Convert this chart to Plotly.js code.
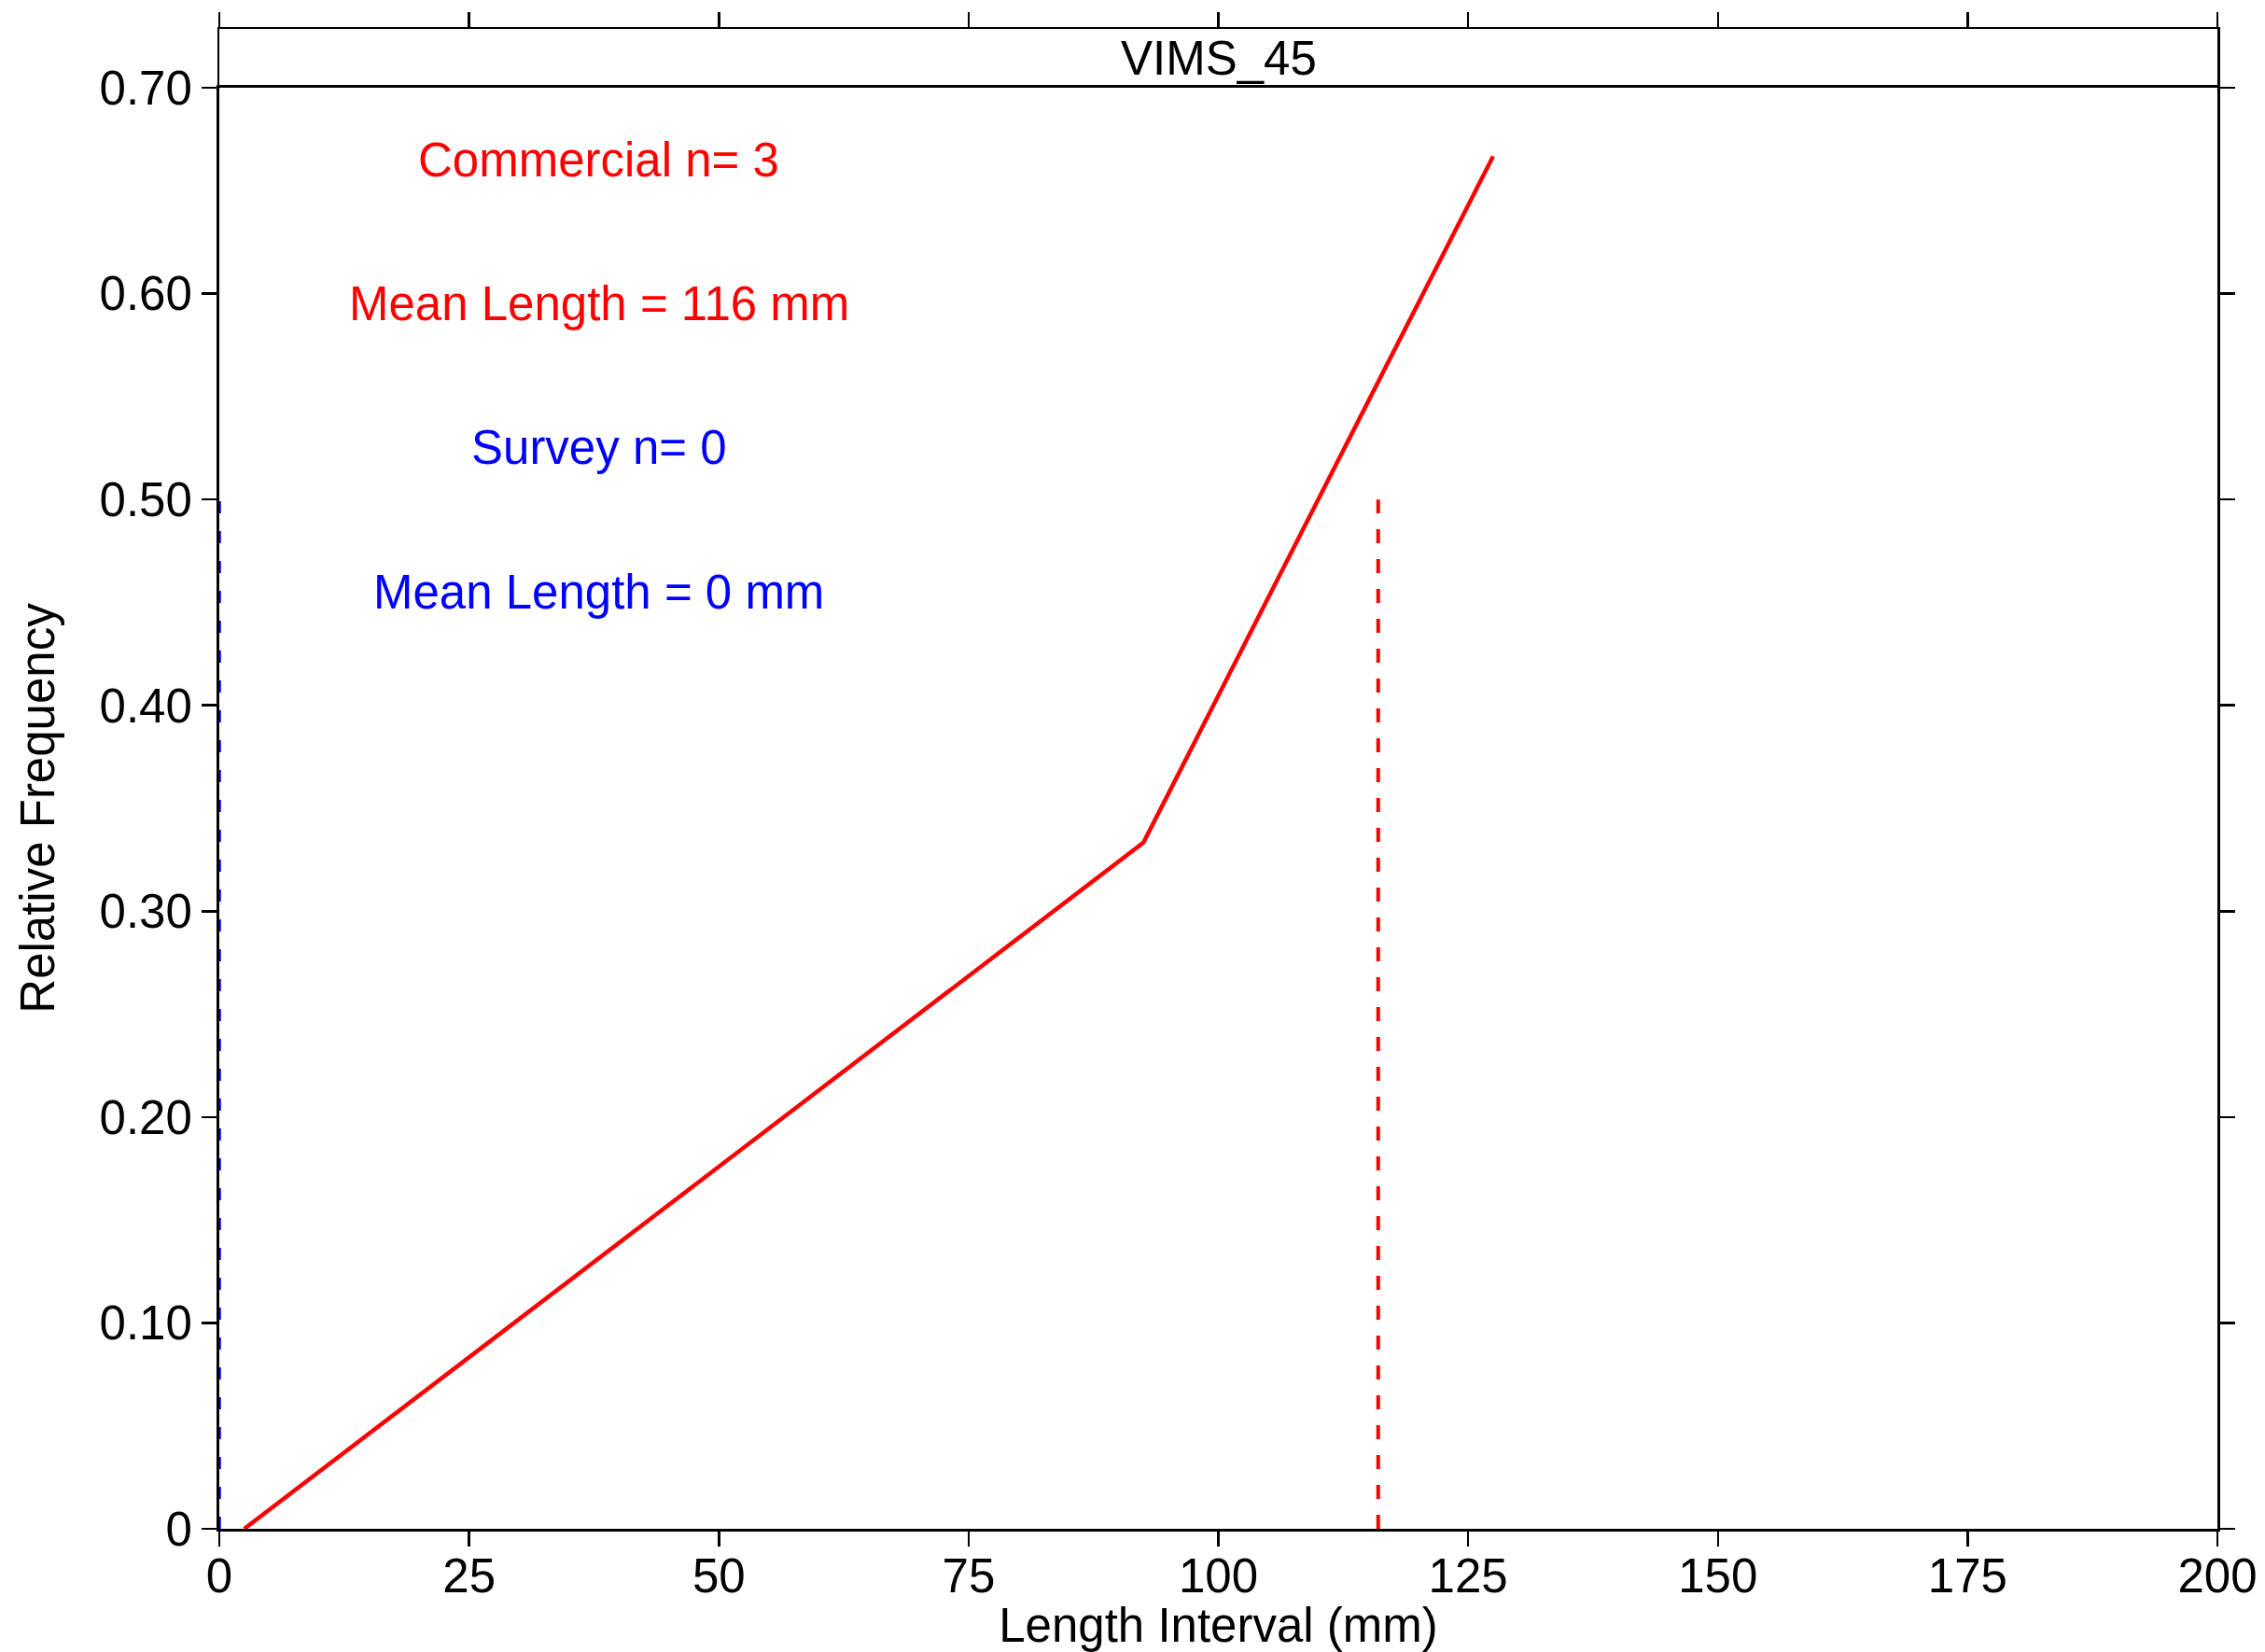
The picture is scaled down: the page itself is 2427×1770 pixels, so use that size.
<!DOCTYPE html>
<html>
<head>
<meta charset="utf-8">
<script src="https://cdn.plot.ly/plotly-3.0.1.min.js"></script>
<style>html,body{margin:0;padding:0;background:#fff;}</style>
</head>
<body>
<div id="chart" style="width:2427px;height:1770px;"></div>
<script>
// ---- data ----
var panelTitle = "VIMS_45";
var commercialLength = [2.5, 92.5, 127.5];
var commercialFreq = [0, 0.3333, 0.6667];
var commercialN = 3;
var commercialMean = 116;
var surveyLength = [];
var surveyFreq = [];
var surveyN = 0;
var surveyMean = 0;
var meanLineTop = 0.5;
var xTicks = [0, 25, 50, 75, 100, 125, 150, 175, 200];
var yTicks = [0, 0.1, 0.2, 0.3, 0.4, 0.5, 0.6, 0.7];
var yTickText = ["0", "0.10", "0.20", "0.30", "0.40", "0.50", "0.60", "0.70"];
var labelX = 38;
var labelY = [0.665, 0.595, 0.525, 0.455];
var labelText = ["Commercial n= " + commercialN, "Mean Length = " + commercialMean + " mm",
                 "Survey n= " + surveyN, "Mean Length = " + surveyMean + " mm"];
var labelColor = ["#FF0000", "#FF0000", "#0000FF", "#0000FF"];

// ---- layout ----
var FONT = "Liberation Sans, Arial, Helvetica, sans-serif";
var FS = 51;
var W = 2427, H = 1770;
var mt = 31, mb = 132, ml = 235, mr = 51;
var plotH = H - mt - mb;
var D = (plotH - 63) / plotH; // main panel domain top

var traces = [
  {x: commercialLength, y: commercialFreq, type: "scatter", mode: "lines",
   line: {color: "#FF0000", width: 4.5}, xaxis: "x", yaxis: "y", hoverinfo: "skip"},
  {x: surveyLength, y: surveyFreq, type: "scatter", mode: "lines",
   line: {color: "#0000FF", width: 4.5}, xaxis: "x", yaxis: "y", hoverinfo: "skip"},
  {x: [commercialMean, commercialMean], y: [0, meanLineTop], type: "scatter", mode: "lines",
   line: {color: "#FF0000", width: 4, dash: "15px,17px"}, xaxis: "x", yaxis: "y", hoverinfo: "skip"},
  {x: [surveyMean, surveyMean], y: [0, meanLineTop], type: "scatter", mode: "lines",
   line: {color: "#0000FF", width: 3.5, dash: "13px,19px"}, xaxis: "x", yaxis: "y", hoverinfo: "skip"},
  // empty trace so the strip panel (x2/y2) is drawn
  {x: [null], y: [null], type: "scatter", mode: "lines", xaxis: "x2", yaxis: "y2", hoverinfo: "skip"}
];

var annotations = labelText.map(function (t, i) {
  return {x: labelX, y: labelY[i], xref: "x", yref: "y", text: t, showarrow: false,
          xanchor: "center", yanchor: "middle", font: {family: FONT, size: FS, color: labelColor[i]}};
});
annotations.push({x: 0.5, y: (D + 1) / 2, xref: "paper", yref: "paper", text: panelTitle,
  showarrow: false, xanchor: "center", yanchor: "middle", font: {family: FONT, size: FS, color: "#000"}});

var layout = {
  width: W, height: H,
  margin: {l: ml, r: mr, t: mt, b: mb, pad: 0},
  paper_bgcolor: "#fff", plot_bgcolor: "#fff",
  showlegend: false,
  font: {family: FONT, size: FS, color: "#000"},
  xaxis: {
    domain: [0, 1], anchor: "y", range: [0, 200],
    tickmode: "array", tickvals: xTicks, ticktext: xTicks.map(String),
    ticks: "outside", ticklen: 16, tickwidth: 2.5, tickcolor: "#000",
    ticklabelstandoff: -12,
    showline: true, linecolor: "#000", linewidth: 3, mirror: true,
    showgrid: false, zeroline: false,
    tickfont: {family: FONT, size: FS, color: "#000"},
    title: {text: "Length Interval (mm)", font: {family: FONT, size: FS, color: "#000"}, standoff: 16}
  },
  yaxis: {
    domain: [0, D], anchor: "x", range: [0, 0.7],
    tickmode: "array", tickvals: yTicks, ticktext: yTickText,
    ticks: "outside", ticklen: 16, tickwidth: 2.5, tickcolor: "#000",
    showline: true, linecolor: "#000", linewidth: 3, mirror: "ticks",
    showgrid: false, zeroline: false,
    tickfont: {family: FONT, size: FS, color: "#000"},
    title: {text: "Relative Frequency", font: {family: FONT, size: FS, color: "#000"}, standoff: 32}
  },
  xaxis2: {
    domain: [0, 1], anchor: "y2", range: [0, 200], side: "top",
    tickmode: "array", tickvals: xTicks, showticklabels: false,
    ticks: "outside", ticklen: 16, tickwidth: 2.5, tickcolor: "#000",
    showline: true, linecolor: "#000", linewidth: 2.5, mirror: false,
    showgrid: false, zeroline: false
  },
  yaxis2: {
    domain: [D, 1], anchor: "x2", range: [0, 1],
    showticklabels: false, ticks: "",
    showline: true, linecolor: "#000", linewidth: 2.5, mirror: true,
    showgrid: false, zeroline: false
  },
  annotations: annotations
};

Plotly.newPlot("chart", traces, layout, {staticPlot: true, displayModeBar: false});
</script>
</body>
</html>
